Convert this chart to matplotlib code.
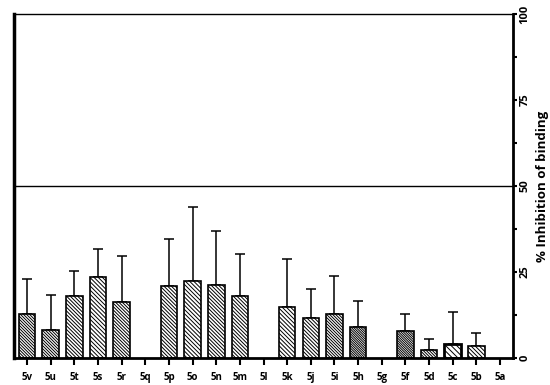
import numpy as np
import matplotlib
matplotlib.use('Agg')
import matplotlib.pyplot as plt

plt.rcParams['font.family'] = ['Open Sans', 'DejaVu Sans']
plt.rcParams['hatch.linewidth'] = 0.7

compounds = ['5v', '5u', '5t', '5s', '5r', '5q', '5p', '5o', '5n', '5m', '5l',
             '5k', '5j', '5i', '5h', '5g', '5f', '5d', '5c', '5b', '5a']
inhibition = [12.7, 8.1, 18.0, 23.6, 16.3, 0, 20.9, 22.5, 21.1, 18.0, 0,
              14.8, 11.7, 12.8, 9.1, 0, 7.9, 2.3, 4.1, 3.5, 0]
sd = [10.3, 10.3, 7.4, 8.0, 13.3, 0, 13.8, 21.5, 15.9, 12.3, 0,
      14.1, 8.3, 11.0, 7.6, 0, 4.9, 3.1, 9.3, 3.7, 0]

# number of backslashes per bar (hatch density)
dens = [11, 11, 9, 8, 10, 0, 9, 8, 9, 9, 0,
        8, 9, 11, 14, 0, 14, 11, 6, 8, 0]

fig = plt.figure(figsize=(5.5, 3.85), dpi=100)
ax = fig.add_axes([0.0255, 0.0701, 0.9073, 0.8935])

x = np.arange(len(compounds))
vals = np.array(inhibition)
err = np.array(sd)
has = vals > 0

for i in x[has]:
    lw = 2.0 if compounds[i] == '5c' else 1.2
    ax.errorbar(x[i], vals[i], yerr=[[0], [err[i]]], fmt='none', ecolor='black',
                elinewidth=1.1, capsize=3.6, capthick=1.1, zorder=1)
    ax.bar(x[i], vals[i], 0.7, color='white', edgecolor='black', linewidth=lw,
           hatch='\\' * dens[i], zorder=2)

ax.axhline(50, color='black', linewidth=1.0, zorder=0)

ax.set_xlim(-0.55, 20.55)
ax.set_ylim(0, 100)
ax.set_xticks(x)
ax.set_xticklabels(compounds, fontsize=7, fontweight='bold')
ax.tick_params(axis='x', length=5, width=1.5, pad=5)

ax.yaxis.tick_right()
ax.yaxis.set_label_position('right')
ax.set_yticks([0, 25, 50, 75, 100])
ax.set_yticks([12.5, 37.5, 62.5, 87.5], minor=True)
ax.set_yticklabels(['0', '25', '50', '75', '100'], fontsize=8, fontweight='bold', rotation=90, va='center')
ax.tick_params(axis='y', which='major', length=3, width=1.5, pad=1.5)
ax.tick_params(axis='y', which='minor', length=3, width=1.5)
ax.set_ylabel('% Inhibition of binding', fontsize=9.5, fontweight='bold', rotation=90, labelpad=4)

ax.spines['left'].set_linewidth(2.5)
ax.spines['right'].set_linewidth(2.0)
ax.spines['bottom'].set_linewidth(2.0)
ax.spines['top'].set_linewidth(1.0)

fig.savefig('out.png', dpi=100)
